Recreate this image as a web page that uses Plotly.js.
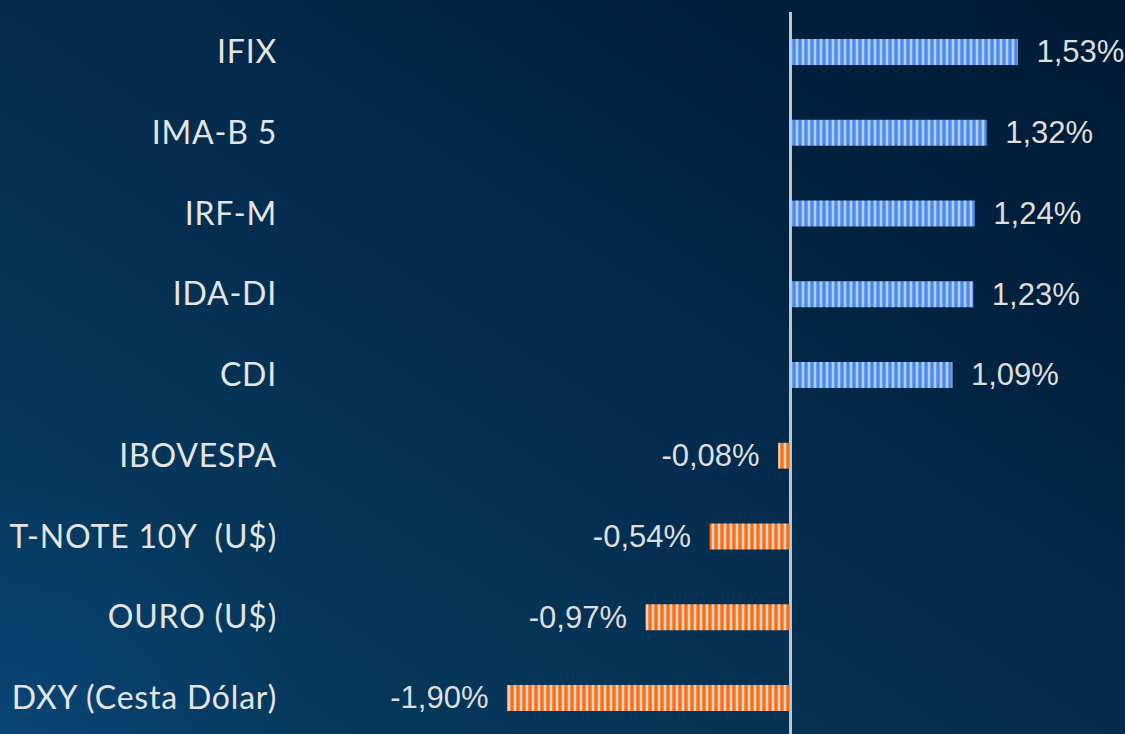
<!DOCTYPE html>
<html>
<head>
<meta charset="utf-8">
<script src="https://cdn.plot.ly/plotly-3.0.1.min.js"></script>
<style>
html,body{margin:0;padding:0;width:1125px;height:734px;overflow:hidden;
background: radial-gradient(ellipse 300px 260px at 0% 100%, rgba(16,80,140,0.45), rgba(16,80,140,0) 100%),
linear-gradient(to top right, #063c62 0%, #053558 28%, #042c4e 50%, #022240 72%, #011a34 100%);}
#chart{width:1125px;height:734px;}
.ytick text{letter-spacing:0.8px;}
</style>
</head>
<body>
<div id="chart"></div>
<script>
const categories = ["IFIX","IMA-B 5","IRF-M","IDA-DI","CDI","IBOVESPA","T-NOTE 10Y  (U$)","OURO (U$)","DXY (Cesta Dólar)"];
const values = [1.53, 1.32, 1.24, 1.23, 1.09, -0.08, -0.54, -0.97, -1.90];
const valueLabels = ["1,53%","1,32%","1,24%","1,23%","1,09%","-0,08%","-0,54%","-0,97%","-1,90%"];

const posBg = "#4a88ec", posFg = "#b0cdfa";
const negBg = "#ff6c0a", negFg = "#dcd4cc";

function makeTrace(isPos) {
  const y = [], x = [], t = [];
  values.forEach((v, i) => {
    if ((v >= 0) === isPos) {
      y.push(categories[i]);
      x.push(v);
      t.push(isPos ? "\u2002" + valueLabels[i] : valueLabels[i] + "\u2002");
    }
  });
  return {
    type: "bar",
    orientation: "h",
    y: y,
    x: x,
    width: 0.32,
    text: t,
    textposition: "outside",
    constraintext: "none",
    cliponaxis: false,
    textfont: {family: "Liberation Sans, Arial, sans-serif", size: 31, color: "#dedede"},
    marker: {
      color: isPos ? posBg : negBg,
      line: {width: 0},
      pattern: {
        shape: "|",
        size: 6,
        solidity: 0.45,
        fillmode: "replace",
        fgcolor: isPos ? posFg : negFg,
        bgcolor: isPos ? posBg : negBg,
        fgopacity: 1
      }
    },
    hoverinfo: "none"
  };
}

const layout = {
  width: 1125,
  height: 734,
  paper_bgcolor: "rgba(0,0,0,0)",
  plot_bgcolor: "rgba(0,0,0,0)",
  margin: {l: 290, r: 0, t: 12, b: 0},
  showlegend: false,
  barmode: "relative",
  xaxis: {
    range: [-3.356, 2.248],
    showgrid: false,
    showticklabels: false,
    zeroline: true,
    zerolinecolor: "#c4c4c4",
    zerolinewidth: 3,
    fixedrange: true
  },
  yaxis: {
    type: "category",
    categoryorder: "array",
    categoryarray: categories,
    range: [8.446, -0.495],
    showgrid: false,
    zeroline: false,
    ticks: "",
    ticklabelstandoff: 12,
    tickfont: {family: "Lato, 'Noto Sans', sans-serif", size: 32, color: "#e4e4e4"},
    fixedrange: true
  }
};

Plotly.newPlot("chart", [makeTrace(true), makeTrace(false)], layout, {displayModeBar: false, staticPlot: true});
</script>
</body>
</html>
